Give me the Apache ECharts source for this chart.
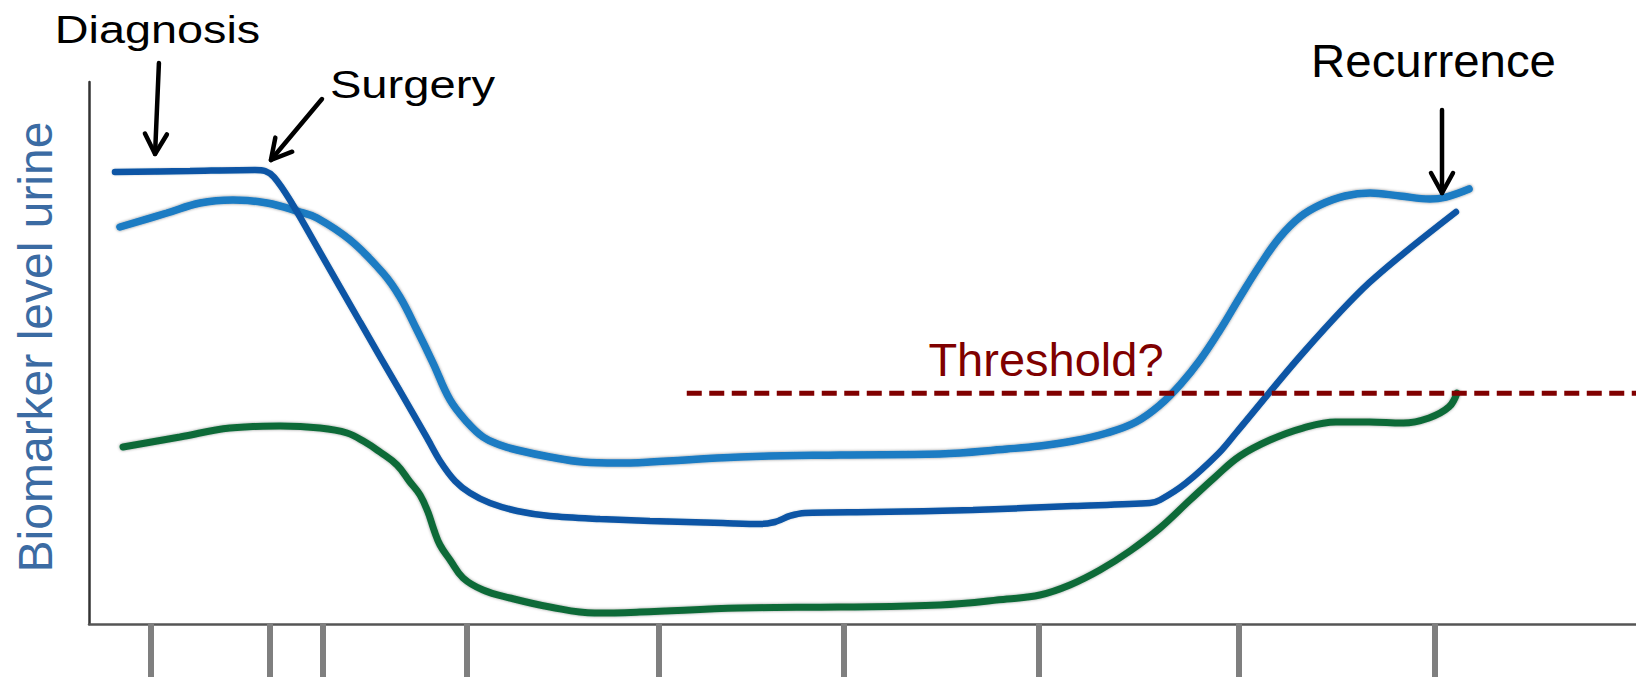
<!DOCTYPE html>
<html>
<head>
<meta charset="utf-8">
<script src="https://cdn.jsdelivr.net/npm/echarts@6/dist/echarts.min.js"></script>
<style>
  html, body { margin: 0; padding: 0; background: #ffffff; }
  #chart { width: 1636px; height: 683px; }
</style>
</head>
<body>
<div id="chart"></div>
<script>
// ---------- data (time units 0..100, biomarker level 0..100) ----------
const timeTicks = [4.0, 11.7, 15.1, 24.4, 36.8, 48.8, 61.4, 74.3, 87.0];

const markerDarkBlue = [
  [1.68, 83.39], [6.53, 83.58], [10.73, 83.76], [11.38, 83.58], [11.96, 82.47],
  [12.99, 78.23], [14.93, 68.63], [17.52, 55.72], [20.10, 42.99], [21.85, 34.32],
  [22.69, 30.07], [23.66, 26.38], [24.63, 24.17], [25.92, 22.32], [27.67, 20.85],
  [29.80, 19.93], [33.03, 19.37], [36.26, 19.00], [40.98, 18.63], [43.37, 18.45],
  [44.34, 18.82], [45.31, 19.93], [46.28, 20.48], [50.68, 20.66], [57.14, 21.03],
  [63.61, 21.77], [68.58, 22.32], [69.23, 22.88], [70.91, 26.01], [73.04, 31.55],
  [74.14, 35.24], [78.47, 50.00], [82.74, 62.92], [88.36, 76.01]
];

const markerLightBlue = [
  [2.00, 73.25], [5.04, 75.83], [7.18, 77.68], [9.31, 78.23], [11.51, 77.68],
  [13.64, 76.01], [14.74, 74.91], [16.87, 70.85], [19.00, 64.76], [20.10, 60.33],
  [21.20, 54.24], [22.24, 48.15], [23.34, 41.33], [24.43, 37.27], [25.47, 34.50],
  [26.57, 33.03], [27.67, 32.10], [29.80, 30.81], [31.93, 29.89], [34.13, 29.70],
  [36.26, 29.89], [42.08, 30.81], [48.55, 31.18], [55.01, 31.37], [59.34, 32.29],
  [61.47, 32.84], [63.61, 33.76], [65.80, 35.24], [67.68, 37.27], [69.23, 40.41],
  [70.52, 44.10], [71.82, 48.71], [73.11, 54.24], [74.40, 60.33], [75.70, 66.24],
  [76.99, 71.40], [78.28, 75.09], [79.57, 77.31], [81.19, 78.97], [82.81, 79.52],
  [84.74, 78.97], [86.68, 78.41], [87.72, 78.78], [89.21, 80.26]
];

const markerGreen = [
  [2.20, 32.66], [5.88, 34.50], [9.11, 36.16], [12.35, 36.53], [14.93, 36.16],
  [16.68, 35.24], [17.84, 33.58], [18.81, 31.73], [19.91, 29.34], [20.75, 26.20],
  [21.40, 23.80], [21.91, 20.66], [22.30, 17.34], [22.69, 14.58], [23.34, 11.81],
  [24.18, 8.49], [25.47, 6.27], [27.21, 4.80], [29.80, 3.14], [32.71, 2.03],
  [35.62, 2.21], [42.08, 2.95], [48.55, 3.14], [55.01, 3.51], [59.34, 4.61],
  [61.47, 5.35], [63.41, 7.20], [65.35, 9.96], [67.29, 13.47], [69.23, 17.71],
  [71.17, 22.88], [72.79, 27.12], [74.40, 31.00], [76.34, 33.95], [78.47, 36.16],
  [80.61, 37.27], [82.74, 37.27], [84.94, 37.08], [86.62, 38.01], [87.91, 40.04],
  [88.43, 42.62]
];

const thresholdLevel = 42.57;
const thresholdSpan = [38.64, 100];
const thresholdText = 'Threshold?';
const thresholdTextAt = [61.86, 48.86];

const eventNames = ['Diagnosis', 'Surgery', 'Recurrence'];
const eventTextAt = [[4.43, 109.78], [20.91, 99.45], [86.91, 103.91]];
const eventArrowFrom = [[4.52, 103.51], [15.06, 96.86], [87.46, 94.83]];
const eventArrowTo = [[4.27, 86.72], [11.76, 85.61], [87.46, 79.52]];

const yTitle = 'Biomarker level urine';

// ---------- chart ----------
const FONT = '"Liberation Sans", Arial, Helvetica, sans-serif';
const chart = echarts.init(document.getElementById('chart'), null, { renderer: 'svg' });

const option = {
  animation: false,
  backgroundColor: '#ffffff',
  grid: { left: 89, right: 0, top: 82, bottom: 59, containLabel: false, outerBoundsMode: 'none' },
  xAxis: {
    type: 'value', min: 0, max: 100,
    axisLine: { show: true, onZero: false, lineStyle: { color: '#555555', width: 2.5 } },
    axisTick: {
      show: true, customValues: timeTicks, length: 53, inside: false,
      lineStyle: { color: '#7f7f7f', width: 6 }
    },
    axisLabel: { show: false },
    splitLine: { show: false }
  },
  yAxis: {
    type: 'value', min: 0, max: 100,
    axisLine: { show: true, lineStyle: { color: '#333333', width: 2.5 } },
    axisTick: { show: false },
    axisLabel: { show: false },
    splitLine: { show: false },
    name: yTitle,
    nameLocation: 'middle',
    nameRotate: 90,
    nameGap: 30,
    nameTextStyle: { color: '#3b6ba3', fontSize: 48, fontFamily: FONT, padding: [0, 0, 0, 12] }
  },
  series: [
    {
      type: 'line', name: 'Marker A', data: markerLightBlue, smooth: 0.4, showSymbol: false, clip: false,
      lineStyle: { color: '#1c7bc3', width: 7.5, cap: 'round', shadowColor: 'rgba(0,0,0,0.45)', shadowBlur: 3 },
      z: 2
    },
    {
      type: 'line', name: 'Marker B', data: markerDarkBlue, smooth: 0.3, showSymbol: false, clip: false,
      lineStyle: { color: '#0954a5', width: 6.5, cap: 'round', shadowColor: 'rgba(0,0,0,0.2)', shadowBlur: 2 },
      z: 3
    },
    {
      type: 'line', name: 'Marker C', data: markerGreen, smooth: 0.4, showSymbol: false, clip: false,
      lineStyle: { color: '#0e6b38', width: 7, cap: 'round', shadowColor: 'rgba(0,0,0,0.4)', shadowBlur: 3 },
      z: 3
    },
    {
      type: 'line', name: 'Threshold',
      data: [[thresholdSpan[0], thresholdLevel], [thresholdSpan[1], thresholdLevel]],
      showSymbol: false, clip: false,
      lineStyle: { color: '#800000', width: 5, type: [15, 7.5] },
      z: 4
    }
  ]
};
chart.setOption(option);

// ---------- annotations placed through the chart's own scales ----------
function px(pt) { return chart.convertToPixel({ gridIndex: 0 }, pt); }

function textEl(text, at, size, color, scaleX) {
  const p = px(at);
  return {
    type: 'text', x: p[0], y: p[1], scaleX: scaleX || 1, z: 10,
    style: {
      text: text, fill: color, fontSize: size, fontFamily: FONT,
      align: 'center', verticalAlign: 'middle', textAlign: 'center', textVerticalAlign: 'middle'
    }
  };
}

function arrowEls(from, to) {
  const a = px(from), b = px(to);
  const dx = b[0] - a[0], dy = b[1] - a[1];
  const len = Math.sqrt(dx * dx + dy * dy);
  const ux = dx / len, uy = dy / len;
  const nx = -uy, ny = ux;
  const L = 20, W = 11;
  const st = { stroke: '#000000', lineWidth: 4.5, lineCap: 'round', lineJoin: 'round', fill: null };
  return [
    { type: 'line', z: 10, shape: { x1: a[0], y1: a[1], x2: b[0], y2: b[1] }, style: st },
    { type: 'polyline', z: 10, shape: { points: [
        [b[0] - ux * L + nx * W, b[1] - uy * L + ny * W],
        [b[0], b[1]],
        [b[0] - ux * L - nx * W, b[1] - uy * L - ny * W]
      ] }, style: st }
  ];
}

const graphics = [];
const eventFontSize = [39, 39, 46];
const eventScaleX = [1.2, 1.21, 1.03];
eventNames.forEach(function (name, i) {
  graphics.push(textEl(name, eventTextAt[i], eventFontSize[i], '#000000', eventScaleX[i]));
  arrowEls(eventArrowFrom[i], eventArrowTo[i]).forEach(function (e) { graphics.push(e); });
});
graphics.push(textEl(thresholdText, thresholdTextAt, 47, '#7f0000', 1));

chart.setOption({ graphic: { elements: graphics } });
</script>
</body>
</html>
